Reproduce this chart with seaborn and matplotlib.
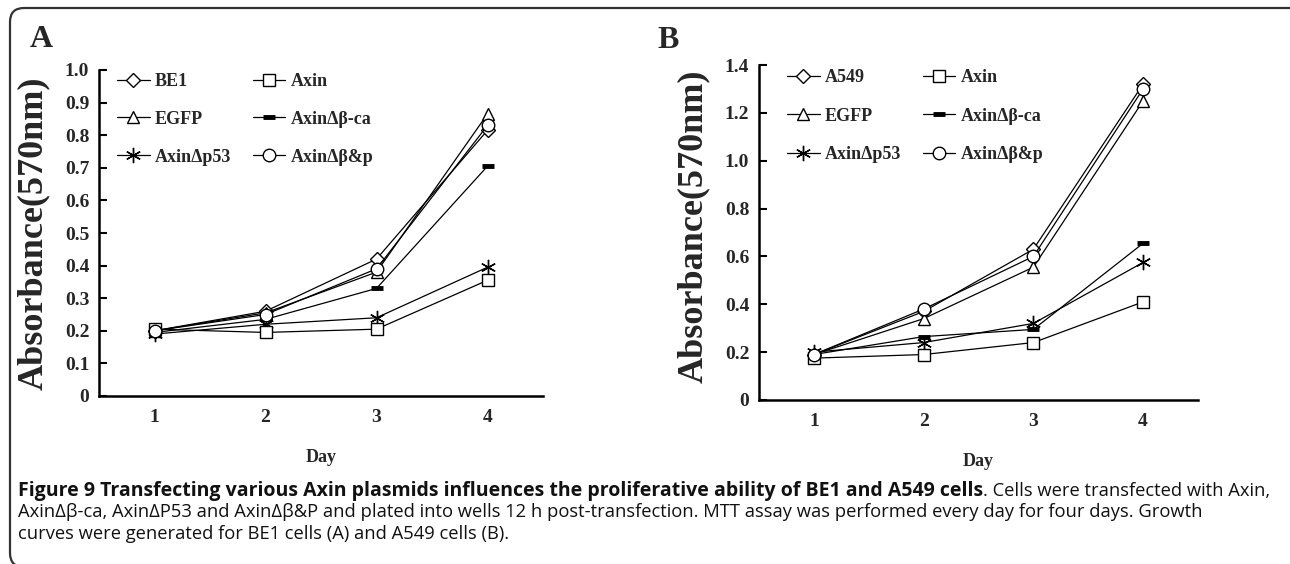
import numpy as np
import pandas as pd
import matplotlib
matplotlib.use('Agg')
import matplotlib.pyplot as plt
import seaborn as sns
from matplotlib.patches import FancyBboxPatch
from matplotlib.transforms import IdentityTransform
from matplotlib.ticker import FuncFormatter

# ---------- data ----------
days = [1, 2, 3, 4]

# panel A (BE1 cells)
a_names = ['BE1', 'EGFP', 'AxinΔp53', 'Axin', 'AxinΔβ-ca', 'AxinΔβ&p']
a_be1 = [0.20, 0.26, 0.42, 0.815]
a_egfp = [0.20, 0.255, 0.38, 0.865]
a_p53 = [0.19, 0.22, 0.24, 0.395]
a_axin = [0.205, 0.195, 0.205, 0.355]
a_ca = [0.195, 0.235, 0.33, 0.705]
a_bp = [0.20, 0.25, 0.39, 0.83]

# panel B (A549 cells)
b_names = ['A549', 'EGFP', 'AxinΔp53', 'Axin', 'AxinΔβ-ca', 'AxinΔβ&p']
b_a549 = [0.19, 0.37, 0.63, 1.32]
b_egfp = [0.19, 0.34, 0.555, 1.25]
b_p53 = [0.20, 0.24, 0.32, 0.575]
b_axin = [0.175, 0.19, 0.24, 0.41]
b_ca = [0.19, 0.265, 0.295, 0.655]
b_bp = [0.19, 0.38, 0.60, 1.30]

a_ticks = [0, 0.1, 0.2, 0.3, 0.4, 0.5, 0.6, 0.7, 0.8, 0.9, 1.0]
b_ticks = [0, 0.2, 0.4, 0.6, 0.8, 1.0, 1.2, 1.4]

caption_bold = 'Figure 9 Transfecting various Axin plasmids influences the proliferative ability of BE1 and A549 cells'
caption_rest = '. Cells were transfected with Axin,'
caption_l2 = 'AxinΔβ-ca, AxinΔP53 and AxinΔβ&P and plated into wells 12 h post-transfection. MTT assay was performed every day for four days. Growth'
caption_l3 = 'curves were generated for BE1 cells (A) and A549 cells (B).'

# ---------- style ----------
sns.set_style('white')
plt.rcParams['font.family'] = ['Liberation Serif', 'DejaVu Serif']
plt.rcParams['font.weight'] = 'bold'

W, H = 1290, 564
fig = plt.figure(figsize=(W / 100, H / 100), dpi=100)

# marker styles, same order as the series
styles = [
    dict(marker='D', markersize=7, mfc='white', mec='black', mew=1.0),
    dict(marker='^', markersize=9, mfc='white', mec='black', mew=1.0),
    dict(marker=(6, 2, 0), markersize=11, mfc='black', mec='black', mew=1.0),
    dict(marker='s', markersize=8, mfc='white', mec='black', mew=1.0),
    dict(marker='_', markersize=9, mfc='black', mec='black', mew=3.5),
    dict(marker='o', markersize=9, mfc='white', mec='black', mew=1.0),
]


def panel(rect, names, series, ticks, ymax, leg_xy, lspace):
    ax = fig.add_axes(rect)
    for name, vals, st in zip(names, series, styles):
        sns.lineplot(x=days, y=vals, ax=ax, color='black', lw=0.9,
                     label=name, **st)
    ax.set_xlim(0.5, 4.5)
    ax.set_ylim(0, ymax)
    ax.set_yticks(ticks)
    ax.yaxis.set_major_formatter(FuncFormatter(lambda v, p: '0' if v == 0 else f'{v:.1f}'))
    ax.set_xticks(days)
    ax.set_xticks([1.5, 2.5, 3.5, 4.5], minor=True)
    ax.tick_params(axis='x', which='major', length=0, pad=9, labelsize=14)
    ax.tick_params(axis='x', which='minor', direction='in', length=5, width=1.5, color='black')
    ax.tick_params(axis='y', direction='in', length=6, width=1.5, pad=7, labelsize=14, left=True, color='black')
    for s in ['top', 'right']:
        ax.spines[s].set_visible(False)
    for s in ['left', 'bottom']:
        ax.spines[s].set_linewidth(1.8)
        ax.spines[s].set_color('black')
    ax.set_xlabel('Day', fontsize=13, fontweight='bold', labelpad=17)
    ax.set_ylabel('Absorbance(570nm)', fontsize=26, fontweight='bold')
    ax.legend(loc='upper left', bbox_to_anchor=(leg_xy[0] / W, 1 - leg_xy[1] / H),
              bbox_transform=fig.transFigure, ncol=2, frameon=False,
              fontsize=13, handlelength=1.8, handletextpad=0.3,
              columnspacing=1.2, labelspacing=lspace, borderpad=0, borderaxespad=0)
    return ax


axA = panel([99 / W, 1 - 396 / H, 444 / W, 326 / H], a_names,
            [a_be1, a_egfp, a_p53, a_axin, a_ca, a_bp], a_ticks, 1.0, (117, 73), 1.15)
axB = panel([759 / W, 1 - 400 / H, 439 / W, 335 / H], b_names,
            [b_a549, b_egfp, b_p53, b_axin, b_ca, b_bp], b_ticks, 1.4, (787, 69), 1.2)
axA.yaxis.set_label_coords(-0.11, 0.5)
axB.yaxis.set_label_coords(-0.112, 0.52)

fig.text(30 / W, 1 - 47 / H, 'A', fontsize=23, fontweight='bold', va='baseline')
fig.text(657 / W, 1 - 48 / H, 'B', fontsize=23, fontweight='bold', va='baseline')

# rounded frame around the figure
frame = FancyBboxPatch((10, -3), 1300, 559, boxstyle='round,pad=0,rounding_size=14',
                       transform=IdentityTransform(), fill=False, lw=1.6, ec='#333333')
fig.patches.append(frame)

# caption
cap_font = ['Open Sans', 'DejaVu Sans']
t1 = fig.text(18 / W, 1 - 491 / H, caption_bold, fontsize=14, fontweight='bold',
              family=cap_font, va='center', color='#111111')
fig.canvas.draw()
bb = t1.get_window_extent()
fig.text(bb.x1 / W, 1 - 491 / H, caption_rest, fontsize=13.2, fontweight='normal',
         family=cap_font, va='center', color='#111111')
fig.text(18 / W, 1 - 512 / H, caption_l2, fontsize=13.2, fontweight='normal',
         family=cap_font, va='center', color='#111111')
fig.text(18 / W, 1 - 534 / H, caption_l3, fontsize=13.2, fontweight='normal',
         family=cap_font, va='center', color='#111111')

fig.savefig('out.png', dpi=100)
